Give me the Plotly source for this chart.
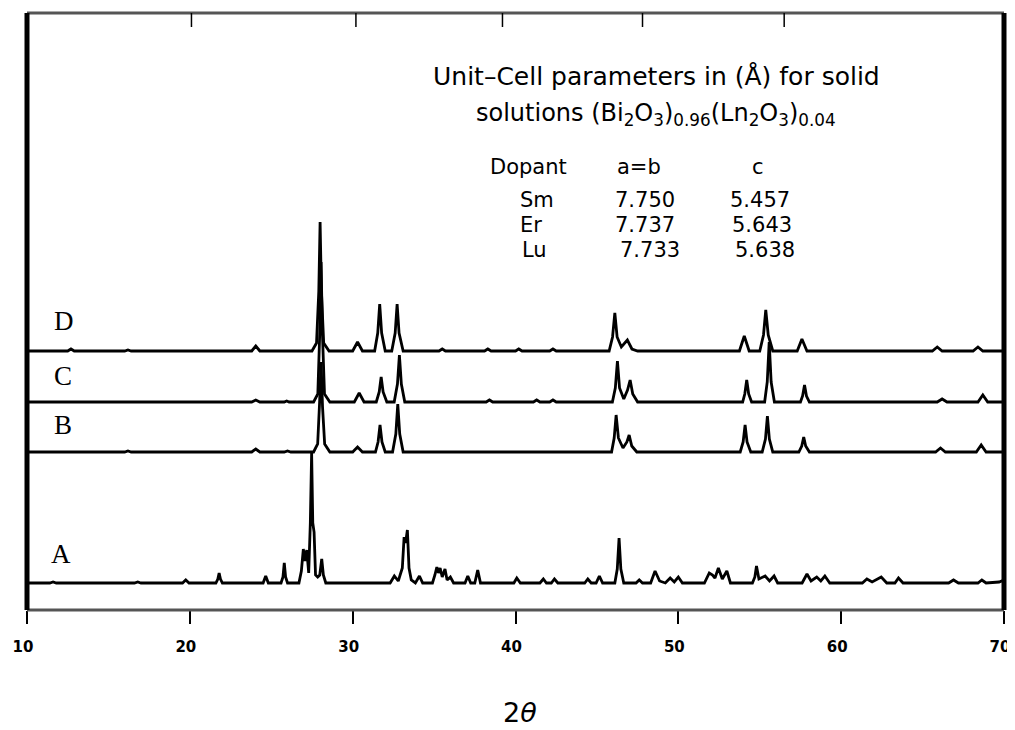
import plotly.graph_objects as go

# ---------------- data ----------------
# two-theta (deg), intensity above the pattern's own baseline (arb. units)
pattern_A = [(10,0),(11.4,0),(11.6,1),(11.8,0),(16.6,0),(16.8,1),(17.0,0),(19.55,0),(19.75,3),(19.95,0),
             (21.6,0),(21.72,4),(21.8,10),(21.88,4),(22.0,0),(24.5,0),(24.66,7),(24.82,0),(25.6,0),(25.72,6),
             (25.8,20),(25.88,6),(26.0,0),(26.7,0),(26.85,12),(26.97,34),(27.07,22),(27.18,33),(27.3,10),
             (27.4,60),(27.48,130),(27.55,60),(27.63,51),(27.72,8),(27.85,6),(27.98,8),(28.1,24),(28.2,8),
             (28.35,0),(32.3,0),(32.56,7),(32.8,2),(33.05,15),(33.16,46),(33.25,40),(33.36,53),(33.46,15),
             (33.6,3),(33.85,0),(34.1,7),(34.3,0),(34.9,0),(35.05,8),(35.17,16),(35.27,10),(35.37,15),(35.5,6),
             (35.67,14),(35.8,3),(36.0,6),(36.2,0),(36.9,0),(37.07,7),(37.25,0),(37.5,0),(37.68,13),(37.85,0),
             (39.9,0),(40.08,5),(40.3,0),(41.5,0),(41.71,4),(41.9,0),(42.2,0),(42.39,4),(42.6,0),(44.25,0),
             (44.44,4),(44.65,0),(44.95,0),(45.15,7),(45.35,0),(46.1,0),(46.25,14),(46.36,45),(46.47,14),
             (46.65,0),(47.4,0),(47.6,3),(47.8,0),(48.3,0),(48.57,12),(48.85,2),(49.2,0),(49.5,5),(49.75,1),
             (50.0,6),(50.25,0),(51.6,0),(51.9,10),(52.1,8),(52.25,5),(52.46,15),(52.7,4),(52.98,12),(53.2,0),
             (54.55,0),(54.7,6),(54.8,17),(54.95,4),(55.33,7),(55.6,2),(55.88,7),(56.1,0),(57.6,0),(57.9,9),
             (58.15,2),(58.5,6),(58.75,2),(59.0,7),(59.3,0),(61.3,0),(61.58,4),(61.9,1),(62.46,6),(62.8,0),
             (63.3,0),(63.52,5),(63.8,0),(66.6,0),(66.9,3),(67.2,0),(68.4,0),(68.64,3),(68.9,0),(69.7,1),
             (70,3)]

pattern_B = [(10,0),(16.0,0),(16.2,1),(16.4,0),(23.8,0),(24.05,3),(24.3,0),(25.8,0),(26.0,1),(26.2,0),
             (27.6,0),(27.85,8),(27.97,50),(28.06,90),(28.15,45),(28.28,8),(28.6,0),(30.0,0),(30.3,5),
             (30.6,0),(31.4,0),(31.56,10),(31.68,27),(31.8,10),(32.0,0),(32.45,0),(32.65,18),(32.77,48),
             (32.89,18),(33.1,0),(45.9,0),(46.06,14),(46.18,37),(46.32,14),(46.6,4),(46.84,10),(46.98,17),
             (47.14,6),(47.45,0),(53.8,0),(53.98,10),(54.1,27),(54.22,10),(54.45,0),(55.15,0),(55.35,13),
             (55.47,36),(55.59,13),(55.8,0),(57.4,0),(57.58,6),(57.7,15),(57.82,6),(58.05,0),(65.8,0),
             (66.1,4),(66.4,0),(68.3,0),(68.6,7),(68.9,0),(70,0)]

pattern_C = [(10,0),(23.8,0),(24.05,2),(24.3,0),(25.8,0),(25.95,1),(26.1,0),(27.6,0),(27.86,8),(27.98,70),
             (28.06,140),(28.14,70),(28.27,8),(28.6,0),(30.1,0),(30.4,9),(30.7,0),(31.45,0),(31.63,10),
             (31.75,25),(31.87,10),(32.1,0),(32.55,0),(32.75,18),(32.87,47),(32.99,18),(33.2,0),(38.2,0),
             (38.4,2),(38.6,0),(41.1,0),(41.3,2),(41.5,0),(42.1,0),(42.3,2),(42.5,0),(45.95,0),(46.13,14),
             (46.26,41),(46.39,14),(46.65,3),(46.88,12),(47.04,22),(47.2,8),(47.5,0),(53.95,0),(54.08,8),
             (54.2,22),(54.32,8),(54.5,0),(55.3,0),(55.46,20),(55.58,60),(55.7,20),(55.9,0),(57.5,0),
             (57.63,6),(57.75,17),(57.87,6),(58.05,0),(65.9,0),(66.2,3),(66.5,0),(68.4,0),(68.7,7),(69.0,0),
             (70,0)]

pattern_D = [(10,0),(12.5,0),(12.7,2),(12.9,0),(16.0,0),(16.2,1),(16.4,0),(23.8,0),(24.05,5),(24.3,0),
             (27.5,0),(27.78,8),(27.92,60),(28.0,129),(28.08,60),(28.22,8),(28.55,0),(30.0,0),(30.3,9),(30.6,0),
             (31.35,0),(31.54,18),(31.66,47),(31.78,18),(32.0,0),(32.4,0),(32.61,18),(32.73,47),(32.85,18),
             (33.1,0),(35.3,0),(35.5,2),(35.7,0),(38.1,0),(38.3,2),(38.5,0),(40.0,0),(40.2,2),(40.4,0),
             (42.1,0),(42.3,2),(42.5,0),(45.75,0),(45.96,14),(46.1,38),(46.24,14),(46.5,4),(46.87,11),
             (47.15,2),(47.5,0),(53.75,0),(54.05,15),(54.35,0),(55.0,0),(55.23,16),(55.37,41),(55.52,16),
             (55.8,0),(57.3,0),(57.59,12),(57.9,0),(65.6,0),(65.9,4),(66.2,0),(68.1,0),(68.4,4),(68.7,0),
             (70,0)]

pattern_names = ["A", "B", "C", "D"]
x_ticks = [10, 20, 30, 40, 50, 60, 70]
top_tick_x = [20.1, 30.2, 39.2, 47.8, 56.5]

dopants = ["Sm", "Er", "Lu"]
a_b_values = ["7.750", "7.737", "7.733"]
c_values = ["5.457", "5.643", "5.638"]

# ---------------- layout helpers ----------------
# page body has an 8px margin; screen coordinates below, figure is shifted by 8px
OFF = 8
W, H = 1015 - OFF, 730 - OFF
L, R, T, B = 27, 1004, 13, 610          # plot area in screen pixels
def pxx(p):
    return (p - L) / (R - L)
def pxy(p):
    return (B - p) / (B - T)

offsets = {"A": 27, "B": 158, "C": 208, "D": 259}
patterns = {"A": pattern_A, "B": pattern_B, "C": pattern_C, "D": pattern_D}

fig = go.Figure()
for name in pattern_names:
    pts = patterns[name]
    fig.add_trace(go.Scatter(
        x=[p[0] for p in pts],
        y=[p[1] + offsets[name] for p in pts],
        mode="lines", line=dict(color="black", width=2.8),
        name=name, showlegend=False, hoverinfo="skip"))

shapes = []
shapes.append(dict(type="line", xref="paper", yref="paper", x0=0, x1=1, y0=1, y1=1,
                   line=dict(color="#555555", width=3)))
shapes.append(dict(type="line", xref="paper", yref="paper", x0=0, x1=1, y0=0, y1=0,
                   line=dict(color="#555555", width=3)))
shapes.append(dict(type="line", xref="paper", yref="paper", x0=0, x1=0, y0=0, y1=1,
                   line=dict(color="black", width=5)))
shapes.append(dict(type="line", xref="paper", yref="paper", x0=1, x1=1, y0=0, y1=1,
                   line=dict(color="black", width=5)))
for tx in top_tick_x:
    shapes.append(dict(type="line", xref="x", yref="paper", x0=tx, x1=tx,
                       y0=1, y1=1 - 14 / (B - T), line=dict(color="black", width=1.5)))

ann = []
sans = "DejaVu Sans"
ann.append(dict(x=pxx(656), y=pxy(76), xref="paper", yref="paper", showarrow=False,
                text="Unit\u2013Cell parameters in (\u00c5) for solid",
                font=dict(family=sans, size=25, color="black"), xanchor="center", yanchor="middle"))
ann.append(dict(x=pxx(656), y=pxy(115), xref="paper", yref="paper", showarrow=False,
                text="solutions (Bi<sub>2</sub>O<sub>3</sub>)<sub>0.96</sub>(Ln<sub>2</sub>O<sub>3</sub>)<sub>0.04</sub>",
                font=dict(family=sans, size=24, color="black"), xanchor="center", yanchor="middle"))
header = [("Dopant", 488), ("a=b", 615), ("c", 750)]
for txt, xl in header:
    ann.append(dict(x=pxx(xl), y=pxy(167), xref="paper", yref="paper", showarrow=False, text=txt,
                    font=dict(family=sans, size=21, color="black"), xanchor="left", yanchor="middle"))
row_y = [200, 225, 250]
col_x = [[518, 613, 728], [518, 613, 730], [520, 618, 733]]
for i in range(3):
    for j, txt in enumerate([dopants[i], a_b_values[i], c_values[i]]):
        ann.append(dict(x=pxx(col_x[i][j]), y=pxy(row_y[i]), xref="paper", yref="paper",
                        showarrow=False, text=txt,
                        font=dict(family=sans, size=21, color="black"),
                        xanchor="left", yanchor="middle"))
label_pos = {"D": (52, 321), "C": (52, 376), "B": (52, 425), "A": (49, 554)}
for name in pattern_names:
    lx, ly = label_pos[name]
    ann.append(dict(x=pxx(lx), y=pxy(ly), xref="paper", yref="paper", showarrow=False, text=name,
                    font=dict(family="Liberation Serif", size=27, color="black"),
                    xanchor="left", yanchor="middle"))
ann.append(dict(x=pxx(520), y=pxy(712), xref="paper", yref="paper", showarrow=False,
                text="2<i>\u03b8</i>", font=dict(family="DejaVu Sans", size=27, color="black"),
                xanchor="center", yanchor="middle"))

fig.update_layout(
    width=W, height=H,
    margin=dict(l=L - OFF, r=W - (R - OFF), t=T - OFF, b=H - (B - OFF)),
    paper_bgcolor="white", plot_bgcolor="white",
    shapes=shapes, annotations=ann,
    xaxis=dict(range=[10, 70], tickvals=x_ticks, ticktext=[str(v) for v in x_ticks],
               ticks="outside", ticklen=13, tickwidth=1.5, tickcolor="black",
               showgrid=False, zeroline=False, showline=False,
               tickfont=dict(family="DejaVu Sans", size=15, color="black", weight="bold"),
               ticklabelstandoff=10, ticklabelshift=-4),
    yaxis=dict(range=[0, B - T], visible=False, showgrid=False, zeroline=False),
)

fig.write_html("out.html")
